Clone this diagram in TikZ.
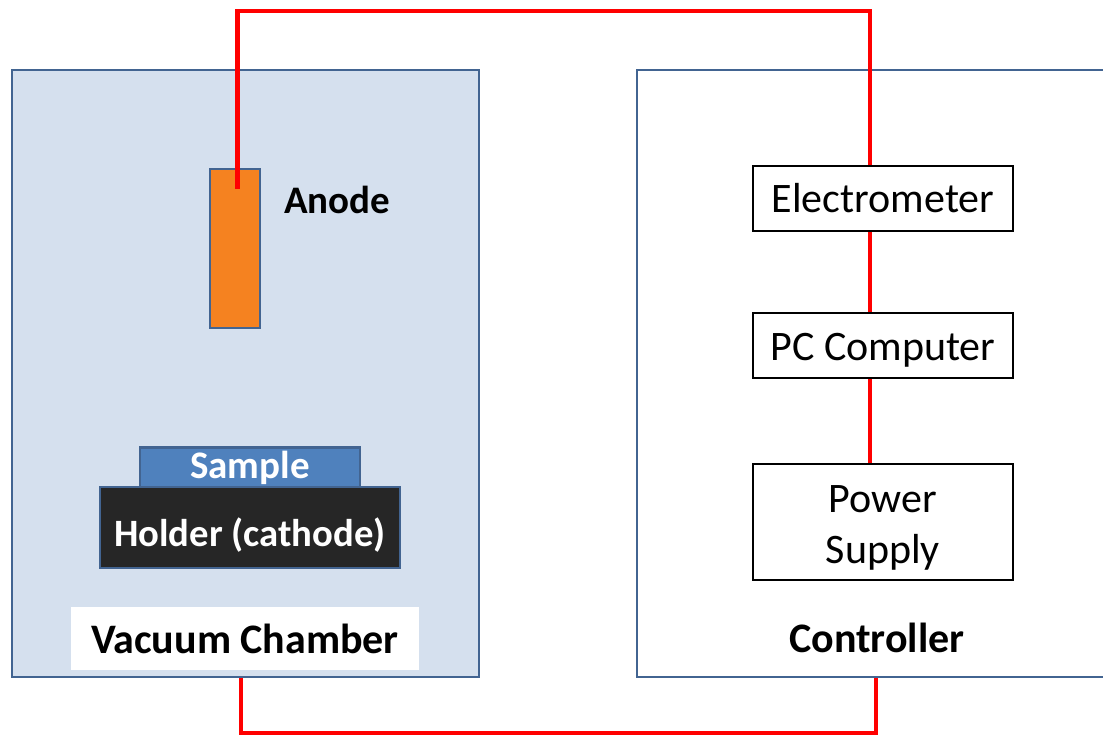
\documentclass[tikz,border=0pt]{standalone}
\usepackage{fontspec}
\setmainfont{Carlito}
\definecolor{chfill}{RGB}{213,224,238}
\definecolor{chline}{RGB}{66,100,145}
\definecolor{anodeor}{RGB}{245,130,32}
\definecolor{samplebl}{RGB}{79,129,189}
\definecolor{holderbk}{RGB}{38,38,38}
\definecolor{wirered}{RGB}{255,0,0}
\tikzset{
  chamberbox/.style={draw=chline, line width=2.8pt, fill=chfill, inner sep=0pt},
  ctrlbox/.style={draw=chline, line width=2.8pt, fill=white, inner sep=0pt},
  partbox/.style={draw=chline, line width=2.8pt, inner sep=0pt},
  devbox/.style={draw=black, line width=2.8pt, fill=white, inner sep=0pt, minimum width=260pt, font=\fontsize{42}{51}\selectfont, align=center},
  boldlabel/.style={font=\fontsize{42}{48}\selectfont\bfseries, inner sep=0pt},
  wire/.style={draw=wirered, line width=4.2pt}
}
\begin{document}
\begin{tikzpicture}[x=1pt,y=-1pt]
\clip (0,0) rectangle (1103,735);
\fill[white] (0,0) rectangle (1103,735);
% boxes
\node[chamberbox, minimum width=467pt, minimum height=607pt] (chamber) at (245.5,373.5) {};
\node[ctrlbox, minimum width=500pt, minimum height=607pt] (ctrl) at (887,373.5) {};
\node[partbox, fill=anodeor, minimum width=50pt, minimum height=159pt] (anode) at (235,248.5) {};
\node[boldlabel, anchor=base west, font=\fontsize{39}{44}\selectfont\bfseries] (anodelbl) at (284,214) {Anode};
\node[partbox, fill=samplebl, minimum width=220pt, minimum height=40pt, text=white, font=\fontsize{39}{40}\selectfont\bfseries, text height=21pt, text depth=0pt] (sample) at (250,467.5) {Sample};
\node[partbox, fill=holderbk, minimum width=300pt, minimum height=81pt, text=white, font=\fontsize{38.7}{40}\selectfont\bfseries, text height=38pt, text depth=0pt] (holder) at (250,527.5) {Holder (cathode)};
\node[fill=white, minimum width=348pt, minimum height=63pt, boldlabel, text height=29pt, text depth=0pt] (vclbl) at (245,638.5) {Vacuum Chamber};
\node[boldlabel, anchor=base] (ctrllbl) at (877,652) {Controller};
% devices
\node[devbox, minimum height=65pt, text height=29pt, text depth=0pt] (elec) at (883,198.5) {Electrometer};
\node[devbox, minimum height=65pt, text height=29pt, text depth=0pt] (pc) at (883,345.5) {PC Computer};
\node[devbox, minimum height=116pt, text height=82pt, text depth=0pt] (ps) at (883,522) {Power\\Supply};
% wires
\coordinate (aw) at (237.5,189);
\coordinate (tr) at (870,11);
\coordinate (bl) at (241,733);
\coordinate (br) at (876,733);
\draw[wire] (aw) |- (tr) -- (tr |- elec.north);
\draw[wire] (tr |- elec.south) -- (tr |- pc.north);
\draw[wire] (tr |- pc.south) -- (tr |- ps.north);
\draw[wire] (bl |- chamber.south) -- (bl) -- (br) -- (br |- ctrl.south);
\end{tikzpicture}
\end{document}
